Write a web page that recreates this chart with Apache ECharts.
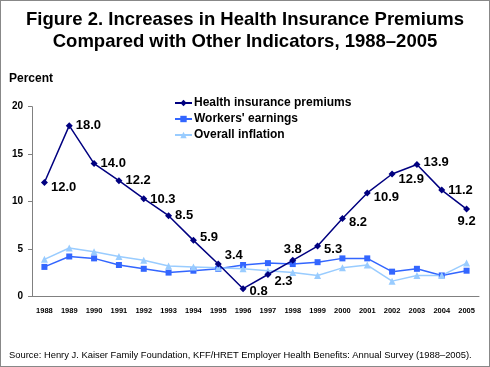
<!DOCTYPE html>
<html><head><meta charset="utf-8">
<script src="https://cdn.jsdelivr.net/npm/echarts@6/dist/echarts.min.js"></script>
<style>html,body{margin:0;padding:0;background:#fff}#c{width:490px;height:367px;box-sizing:border-box;border:1px solid #888}</style>
</head><body><div id="c"></div>
<script>
const years = ['1988','1989','1990','1991','1992','1993','1994','1995','1996','1997','1998','1999','2000','2001','2002','2003','2004','2005'];
const healthPremiums = [12.0,18.0,14.0,12.2,10.3,8.5,5.9,3.4,0.8,2.3,3.8,5.3,8.2,10.9,12.9,13.9,11.2,9.2];
const workersEarnings = [3.1,4.2,4.0,3.3,2.9,2.5,2.7,2.9,3.3,3.5,3.4,3.6,4.0,4.0,2.6,2.9,2.2,2.7];
const overallInflation = [3.9,5.1,4.7,4.2,3.8,3.2,3.1,3.0,2.9,2.7,2.5,2.2,3.0,3.3,1.6,2.2,2.2,3.5];
const yTicks = [0,5,10,15,20];

const labelStyle = [
  {position:'right',offset:[0,5]},{position:'right',offset:[0,0]},{position:'right',offset:[0,0]},
  {position:'right',offset:[0,0]},{position:'right',offset:[0,1]},{position:'right',offset:[0,0]},
  {position:'right',offset:[0,-3]},{position:'right',offset:[0,-9]},{position:'right',offset:[0,3]},
  {position:'right',offset:[0,7]},{position:'top',offset:[0,2]},{position:'right',offset:[0,3]},
  {position:'right',offset:[0,4]},{position:'right',offset:[0,4]},{position:'right',offset:[0,5]},
  {position:'right',offset:[0,-2]},{position:'right',offset:[0,0]},{position:'bottom',offset:[0,-1]}
];

const chart = echarts.init(document.getElementById('c'));
const ff = 'Liberation Sans, Arial, sans-serif';
const bold = {fontFamily:ff, fontWeight:'bold', color:'#000'};
chart.setOption({
  animation:false,
  title:{text:'Figure 2. Increases in Health Insurance Premiums\nCompared with Other Indicators, 1988–2005',
    left:'center', top:3, textStyle:Object.assign({}, bold, {fontSize:18.5, lineHeight:22})},
  legend:{orient:'vertical', left:168, top:91, itemWidth:17, itemHeight:8, itemGap:4, padding:[5,5,5,5],
    textStyle:Object.assign({}, bold, {fontSize:12, padding:[0,0,0,-3]}),
    data:['Health insurance premiums',"Workers' earnings",'Overall inflation']},
  grid:{left:31, right:10, top:105.7, bottom:69.7},
  graphic:[
    {type:'text', left:8, top:72, style:{text:'Percent', font:'bold 12px Liberation Sans, Arial', fill:'#000'}},
    {type:'text', left:8, top:350, style:{text:'Source: Henry J. Kaiser Family Foundation, KFF/HRET Employer Health Benefits: Annual Survey (1988–2005).', font:'9.4px Liberation Sans, Arial', fill:'#000'}}
  ],
  xAxis:{type:'category', data:years, boundaryGap:true,
    axisLine:{lineStyle:{color:'#808080'}}, axisTick:{length:4, lineStyle:{color:'#808080'}},
    axisLabel:Object.assign({}, bold, {fontSize:7.5, margin:11, interval:0})},
  yAxis:{type:'value', min:yTicks[0], max:yTicks[yTicks.length-1], interval:5,
    splitLine:{show:false}, axisLine:{show:true, lineStyle:{color:'#808080'}},
    axisTick:{show:true, length:4, lineStyle:{color:'#808080'}},
    axisLabel:Object.assign({}, bold, {fontSize:10, margin:9})},
  series:[
    {name:'Health insurance premiums', type:'line', z:5, symbol:'diamond', symbolSize:7,
     itemStyle:{color:'#000080'}, lineStyle:{color:'#000080', width:1.5},
     data:healthPremiums.map((v,i)=>({value:v, label:Object.assign({show:true, distance:3, formatter:(p)=>p.value.toFixed(1)}, labelStyle[i])})),
     label:Object.assign({}, bold, {fontSize:13})},
    {name:"Workers' earnings", type:'line', symbol:'rect', symbolSize:6,
     itemStyle:{color:'#3366FF'}, lineStyle:{color:'#3366FF', width:1.5}, data:workersEarnings},
    {name:'Overall inflation', type:'line', symbol:'triangle', symbolSize:7,
     itemStyle:{color:'#99CCFF'}, lineStyle:{color:'#99CCFF', width:1.5}, data:overallInflation}
  ]
});
</script></body></html>
